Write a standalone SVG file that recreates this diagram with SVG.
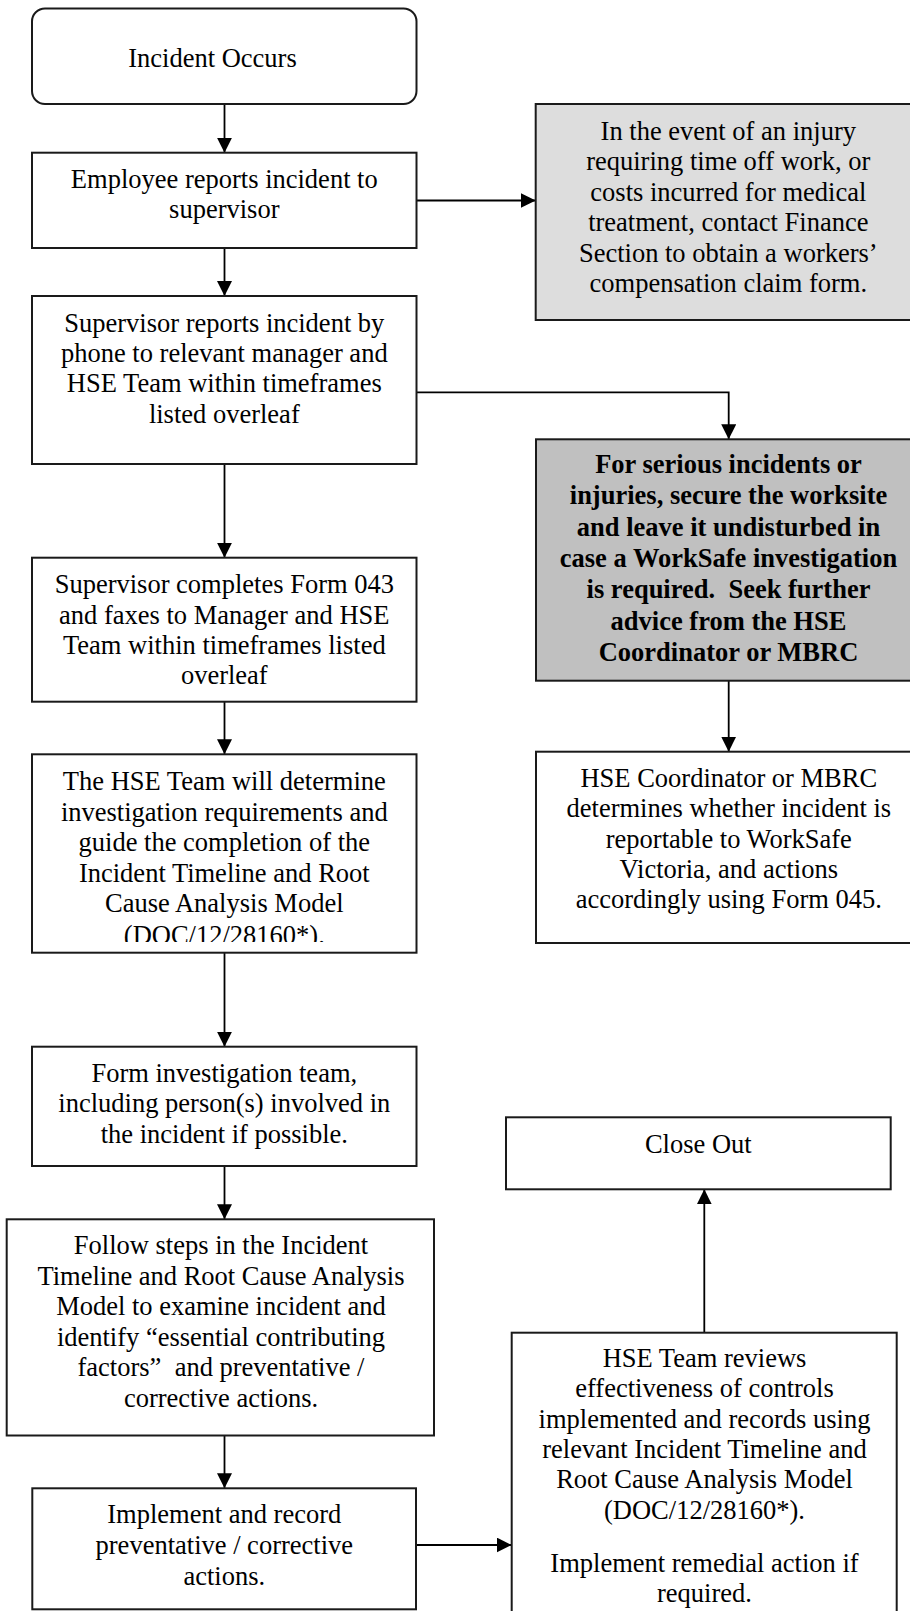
<svg xmlns="http://www.w3.org/2000/svg" width="910" height="1611" viewBox="0 0 910 1611">
<style>
.box{fill:#ffffff;stroke:#1a1a1a;stroke-width:2}
.light{fill:#dddddd;stroke:#1a1a1a;stroke-width:2}
.dark{fill:#c0c0c0;stroke:#1a1a1a;stroke-width:2}
.t{font-family:"Liberation Serif","Times New Roman",serif;font-size:26.5px;fill:#000;text-anchor:middle}
.b{font-weight:bold}
.conn{fill:none;stroke:#000;stroke-width:1.8}
</style>
<defs>
<marker id="arrow" markerUnits="userSpaceOnUse" markerWidth="16" markerHeight="16" refX="15" refY="7.5" orient="auto">
<path d="M0,0 L15,7.5 L0,15 Z" fill="#000"/>
</marker>
<clipPath id="clip5"><rect x="32" y="754" width="385" height="188"/></clipPath>
</defs>
<rect width="910" height="1611" fill="#ffffff"/>

<g id="connectors">
<line class="conn" x1="224.5" y1="104" x2="224.5" y2="152.7" marker-end="url(#arrow)"/>
<line class="conn" x1="416.5" y1="200.5" x2="535.7" y2="200.5" marker-end="url(#arrow)"/>
<line class="conn" x1="224.5" y1="248" x2="224.5" y2="296" marker-end="url(#arrow)"/>
<path class="conn" d="M416.5,392.3 H728.7 V439.3" marker-end="url(#arrow)"/>
<line class="conn" x1="224.5" y1="464" x2="224.5" y2="557.7" marker-end="url(#arrow)"/>
<line class="conn" x1="728.7" y1="680.7" x2="728.7" y2="751.7" marker-end="url(#arrow)"/>
<line class="conn" x1="224.5" y1="701.7" x2="224.5" y2="754.3" marker-end="url(#arrow)"/>
<line class="conn" x1="224.5" y1="952.7" x2="224.5" y2="1046.7" marker-end="url(#arrow)"/>
<line class="conn" x1="224.5" y1="1166" x2="224.5" y2="1219.3" marker-end="url(#arrow)"/>
<line class="conn" x1="224.5" y1="1435.5" x2="224.5" y2="1488.3" marker-end="url(#arrow)"/>
<line class="conn" x1="416" y1="1545" x2="511.7" y2="1545" marker-end="url(#arrow)"/>
<line class="conn" x1="704.3" y1="1332.7" x2="704.3" y2="1189.3" marker-end="url(#arrow)"/>
</g>

<g id="n1">
<rect class="box" x="32" y="8.5" width="384.5" height="95.5" rx="13"/>
<text class="t" x="212.5" y="66.7">Incident Occurs</text>
</g>

<g id="n2">
<rect class="box" x="32" y="152.7" width="384.5" height="95.3"/>
<text class="t" x="224.3" y="188.3">Employee reports incident to</text>
<text class="t" x="224.3" y="218.3">supervisor</text>
</g>

<g id="n_finance">
<rect class="light" x="535.7" y="104" width="385" height="216"/>
<text class="t" x="728.3" y="139.5">In the event of an injury</text>
<text class="t" x="728.3" y="170">requiring time off work, or</text>
<text class="t" x="728.3" y="200.5">costs incurred for medical</text>
<text class="t" x="728.3" y="231">treatment, contact Finance</text>
<text class="t" x="728.3" y="261.5">Section to obtain a workers’</text>
<text class="t" x="728.3" y="292">compensation claim form.</text>
</g>

<g id="n3">
<rect class="box" x="32" y="296" width="384.5" height="168"/>
<text class="t" x="224.3" y="331.7">Supervisor reports incident by</text>
<text class="t" x="224.3" y="361.9">phone to relevant manager and</text>
<text class="t" x="224.3" y="392.3">HSE Team within timeframes</text>
<text class="t" x="224.3" y="422.7">listed overleaf</text>
</g>

<g id="n_serious">
<rect class="dark" x="536" y="439.3" width="385" height="241.4"/>
<text class="t b" x="728.5" y="473">For serious incidents or</text>
<text class="t b" x="728.5" y="504.3">injuries, secure the worksite</text>
<text class="t b" x="728.5" y="535.6">and leave it undisturbed in</text>
<text class="t b" x="728.5" y="566.9">case a WorkSafe investigation</text>
<text class="t b" x="728.5" y="598.2" xml:space="preserve">is required.  Seek further</text>
<text class="t b" x="728.5" y="629.5">advice from the HSE</text>
<text class="t b" x="728.5" y="660.8">Coordinator or MBRC</text>
</g>

<g id="n4">
<rect class="box" x="32" y="557.7" width="384.5" height="144"/>
<text class="t" x="224.3" y="593.3">Supervisor completes Form 043</text>
<text class="t" x="224.3" y="623.5">and faxes to Manager and HSE</text>
<text class="t" x="224.3" y="653.8">Team within timeframes listed</text>
<text class="t" x="224.3" y="684">overleaf</text>
</g>

<g id="n_coord">
<rect class="box" x="536" y="751.7" width="385" height="191.3"/>
<text class="t" x="728.8" y="787.3">HSE Coordinator or MBRC</text>
<text class="t" x="728.8" y="817.4">determines whether incident is</text>
<text class="t" x="728.8" y="847.5">reportable to WorkSafe</text>
<text class="t" x="728.8" y="877.6">Victoria, and actions</text>
<text class="t" x="728.8" y="907.7">accordingly using Form 045.</text>
</g>

<g id="n5">
<rect class="box" x="32" y="754.3" width="384.5" height="198.4"/>
<g clip-path="url(#clip5)">
<text class="t" x="224.3" y="790">The HSE Team will determine</text>
<text class="t" x="224.3" y="820.6">investigation requirements and</text>
<text class="t" x="224.3" y="851.2">guide the completion of the</text>
<text class="t" x="224.3" y="881.8">Incident Timeline and Root</text>
<text class="t" x="224.3" y="912.4">Cause Analysis Model</text>
<text class="t" x="224.3" y="944">(DOC/12/28160*).</text>
</g>
</g>

<g id="n6">
<rect class="box" x="32" y="1046.7" width="384.5" height="119.3"/>
<text class="t" x="224.3" y="1081.7">Form investigation team,</text>
<text class="t" x="224.3" y="1112">including person(s) involved in</text>
<text class="t" x="224.3" y="1142.5">the incident if possible.</text>
</g>

<g id="n_close">
<rect class="box" x="506" y="1117.3" width="384.7" height="72"/>
<text class="t" x="698.3" y="1152.7">Close Out</text>
</g>

<g id="n7">
<rect class="box" x="6.7" y="1219.3" width="427.3" height="216.2"/>
<text class="t" x="221" y="1254">Follow steps in the Incident</text>
<text class="t" x="221" y="1284.6">Timeline and Root Cause Analysis</text>
<text class="t" x="221" y="1315.2">Model to examine incident and</text>
<text class="t" x="221" y="1345.8">identify “essential contributing</text>
<text class="t" x="221" y="1376.4" xml:space="preserve">factors”  and preventative /</text>
<text class="t" x="221" y="1407">corrective actions.</text>
</g>

<g id="n_review">
<rect class="box" x="511.7" y="1332.7" width="385" height="290"/>
<text class="t" x="704.5" y="1366.7">HSE Team reviews</text>
<text class="t" x="704.5" y="1397.1">effectiveness of controls</text>
<text class="t" x="704.5" y="1427.5">implemented and records using</text>
<text class="t" x="704.5" y="1457.9">relevant Incident Timeline and</text>
<text class="t" x="704.5" y="1488.3">Root Cause Analysis Model</text>
<text class="t" x="704.5" y="1518.7">(DOC/12/28160*).</text>
<text class="t" x="704.5" y="1571.7">Implement remedial action if</text>
<text class="t" x="704.5" y="1602">required.</text>
</g>

<g id="n8">
<rect class="box" x="32.3" y="1488.3" width="383.7" height="121"/>
<text class="t" x="224.3" y="1523.3">Implement and record</text>
<text class="t" x="224.3" y="1554">preventative / corrective</text>
<text class="t" x="224.3" y="1585">actions.</text>
</g>
</svg>
